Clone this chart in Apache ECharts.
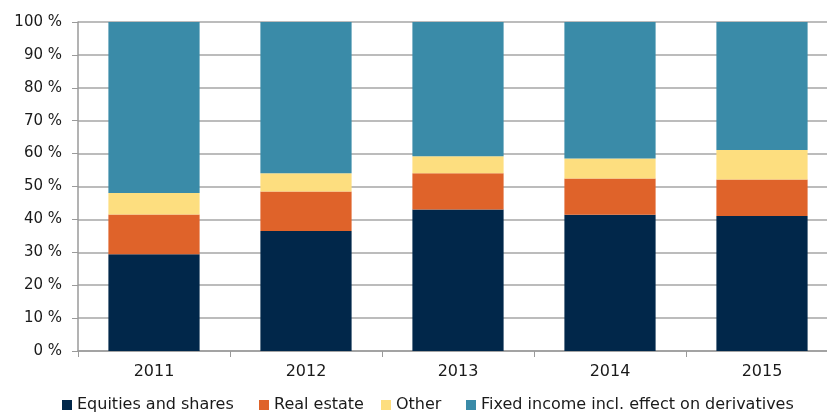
<!DOCTYPE html>
<html>
<head>
<meta charset="utf-8">
<script src="https://cdn.jsdelivr.net/npm/echarts@6/dist/echarts.min.js"></script>
<style>
  html, body { margin: 0; padding: 0; background: #fff; }
  #chart { width: 827px; height: 414px; }
</style>
</head>
<body>
<div id="chart"></div>
<script>
// 数据
const years = ['2011', '2012', '2013', '2014', '2015']
const equities = [29.4, 36.5, 43.0, 41.4, 41.0]
const realEstate = [12.1, 12.0, 11.0, 11.0, 11.1]
const other = [6.5, 5.5, 5.2, 6.1, 9.0]
const fixedIncome = [52.0, 46.0, 40.8, 41.5, 38.9]
const yTicks = [0, 10, 20, 30, 40, 50, 60, 70, 80, 90, 100]

const seriesDefs = [
  { name: 'Equities and shares', data: equities, color: '#01274A', legendLeft: 62 },
  { name: 'Real estate', data: realEstate, color: '#DF632A', legendLeft: 259 },
  { name: 'Other', data: other, color: '#FDDE7F', legendLeft: 381 },
  { name: 'Fixed income incl. effect on derivatives', data: fixedIncome, color: '#3A8BA8', legendLeft: 466 }
]

const font = 'DejaVu Sans'
const chart = echarts.init(document.getElementById('chart'))

// 每个图例单独定位
const legends = seriesDefs.map(s => ({
  left: s.legendLeft,
  top: 397,
  padding: 0,
  icon: 'rect',
  itemWidth: 10,
  itemHeight: 10,
  textStyle: { fontFamily: font, fontSize: 16, color: '#1a1a1a' },
  data: [s.name]
}))

chart.setOption({
  animation: false,
  grid: { left: 78, top: 22, right: -11, bottom: 63, outerBoundsMode: 'none' },
  legend: legends,
  xAxis: {
    type: 'category',
    data: years,
    axisLine: { lineStyle: { color: '#9a9a9a', width: 1.5 } },
    axisTick: { show: true, length: 6, lineStyle: { color: '#9a9a9a' } },
    axisLabel: { fontFamily: font, fontSize: 16, color: '#1a1a1a', margin: 13 }
  },
  yAxis: {
    type: 'value',
    min: yTicks[0],
    max: yTicks[yTicks.length - 1],
    interval: 10,
    axisLine: { show: true, lineStyle: { color: '#9a9a9a', width: 1.5 } },
    axisTick: { show: true, length: 6, lineStyle: { color: '#9a9a9a' } },
    splitLine: { lineStyle: { color: '#a6a6a6', width: 1.5 } },
    axisLabel: {
      fontFamily: font, fontSize: 15, color: '#1a1a1a', margin: 16,
      formatter: v => v + ' %'
    }
  },
  series: seriesDefs.map(s => ({
    name: s.name,
    type: 'bar',
    stack: 'total',
    barCategoryGap: '40%',
    data: s.data,
    itemStyle: { color: s.color }
  }))
})
</script>
</body>
</html>
